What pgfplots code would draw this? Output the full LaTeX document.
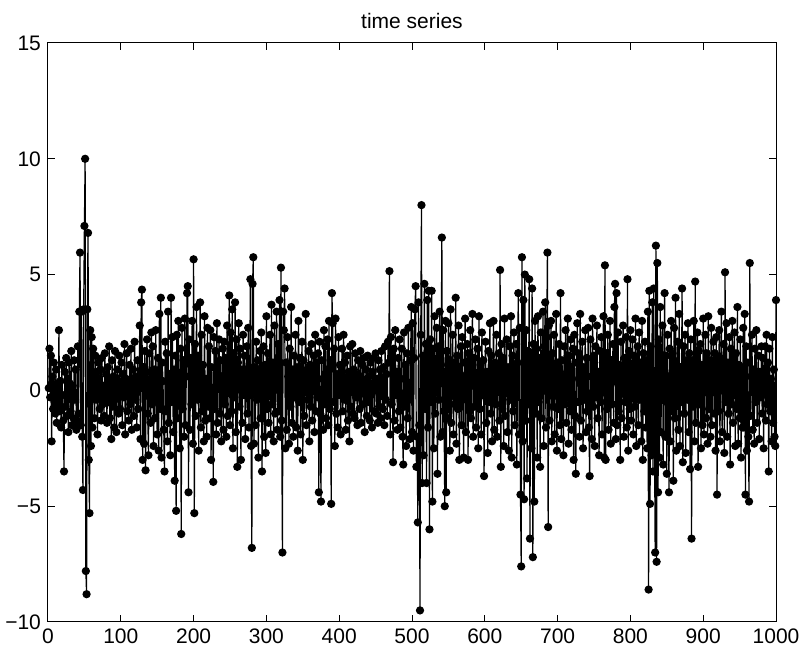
\documentclass[border=0pt]{standalone}
\usepackage{fontspec}
\setmainfont{Liberation Sans}
\usepackage{pgfplots}
\usepackage{pgfplotstable}
\pgfplotsset{compat=1.18}
\pgfplotstableread[row sep=\\]{
y\\
0.1\\ 1.8\\ -0.3\\ 1.5\\ -2.2\\ 0.6\\ -0.8\\ 1.2\\ -0.5\\ -1.0\\ 0.9\\ -1.4\\ 0.3\\ -0.6\\ 2.6\\ -0.9\\ 0.4\\ -1.6\\ 1.1\\ -0.2\\
-1.3\\ -3.5\\ 0.8\\ -0.7\\ 1.4\\ -1.1\\ 0.5\\ -1.8\\ 1.2\\ 0.3\\ -0.9\\ 1.7\\ -1.5\\ 0.2\\ -1.2\\ 1.3\\ -0.4\\ 0.9\\ -1.7\\ -1.3\\
1.9\\ -1.0\\ 3.4\\ 5.95\\ -1.5\\ 3.4\\ -2.0\\ -4.3\\ 3.5\\ 7.1\\ 10.0\\ -7.8\\ -8.8\\ 3.5\\ 6.8\\ -3.0\\ -5.3\\ 2.6\\ -2.4\\ 2.3\\
-1.6\\ 1.8\\ 0.6\\ -1.2\\ 1.5\\ -0.4\\ 0.8\\ -1.9\\ 1.2\\ 0.3\\ -0.8\\ 0.9\\ -1.3\\ 1.4\\ -0.6\\ 0.2\\ -1.1\\ 1.6\\ -0.3\\ 0.7\\
-1.4\\ 1.0\\ -0.5\\ 1.9\\ -1.2\\ 0.4\\ -2.1\\ 1.3\\ -0.7\\ 0.6\\ -1.6\\ 1.7\\ -0.2\\ -1.8\\ 0.9\\ 0.3\\ -1.0\\ 1.5\\ -0.8\\ 0.1\\
1.2\\ -1.5\\ 0.7\\ -0.3\\ 2.0\\ -1.9\\ 0.5\\ 1.6\\ -0.9\\ 0.2\\ -1.3\\ 1.1\\ -0.6\\ 1.8\\ -1.7\\ 0.4\\ 0.9\\ -1.1\\ 2.1\\ -0.4\\
0.6\\ -1.6\\ 1.3\\ -0.8\\ 0.3\\ 2.8\\ -2.1\\ 3.8\\ 4.35\\ -3.0\\ 1.0\\ -2.3\\ 1.7\\ -3.45\\ 0.8\\ 2.2\\ -1.0\\ -2.8\\ 1.6\\ 0.5\\
-1.4\\ 2.5\\ -0.6\\ 1.9\\ -2.4\\ 0.9\\ -1.2\\ 2.6\\ -0.3\\ -1.9\\ 1.4\\ -2.6\\ 3.3\\ -0.8\\ 4.0\\ -2.9\\ 1.2\\ 0.4\\ -1.7\\ -3.5\\
2.1\\ -0.9\\ 1.6\\ -2.2\\ 3.4\\ -1.4\\ 0.7\\ -2.8\\ 4.0\\ -0.5\\ 2.3\\ -1.8\\ 0.9\\ -3.9\\ 1.5\\ -5.2\\ 2.4\\ -1.2\\ 3.0\\ -0.3\\
-2.5\\ 1.8\\ -6.2\\ 2.7\\ -0.8\\ 1.3\\ -2.0\\ 3.1\\ -1.5\\ 0.6\\ 4.2\\ 4.5\\ -4.4\\ 2.2\\ -1.7\\ 1.4\\ -0.6\\ 3.0\\ -2.3\\ 5.66\\
-5.3\\ 2.0\\ -1.1\\ 3.6\\ -0.4\\ 1.5\\ -2.6\\ 0.8\\ 3.8\\ -1.6\\ 2.4\\ -0.9\\ 1.1\\ -2.2\\ 3.2\\ -1.3\\ 0.5\\ -2.0\\ 2.7\\ -0.7\\
1.9\\ -1.2\\ 2.6\\ -3.0\\ 1.0\\ -0.5\\ -3.95\\ 2.3\\ -0.8\\ 1.7\\ -1.9\\ 2.9\\ -1.4\\ 0.4\\ 2.2\\ -1.0\\ 1.3\\ -2.2\\ 0.6\\ 1.8\\
-1.7\\ 2.1\\ -0.6\\ 1.4\\ -2.0\\ 2.8\\ -1.1\\ 0.7\\ 4.1\\ -1.5\\ 2.5\\ -0.9\\ 3.5\\ -2.5\\ 1.6\\ -0.3\\ 3.8\\ -1.8\\ 2.2\\ -3.3\\
1.2\\ 2.9\\ -0.7\\ 1.8\\ -3.0\\ 0.9\\ -1.4\\ 2.4\\ -0.2\\ 1.5\\ -2.1\\ 0.6\\ 1.9\\ -1.0\\ 2.7\\ -1.6\\ 0.3\\ 4.8\\ -2.4\\ -6.8\\
4.6\\ 5.75\\ -2.3\\ 1.0\\ -1.5\\ 2.1\\ -0.4\\ 1.3\\ -2.9\\ 0.8\\ 1.7\\ -1.2\\ 2.5\\ -3.5\\ 0.5\\ 1.9\\ -2.0\\ 1.1\\ -2.7\\ 3.2\\
-0.8\\ 1.6\\ -1.4\\ 0.9\\ 2.4\\ -1.9\\ 3.7\\ -0.6\\ 1.2\\ -2.2\\ 2.8\\ -1.0\\ 0.4\\ 3.4\\ -1.7\\ 2.0\\ -0.9\\ 3.9\\ -2.0\\ 5.3\\
-1.3\\ -7.0\\ 3.4\\ 2.6\\ 4.4\\ -2.5\\ 1.2\\ -1.7\\ 2.3\\ 0.6\\ -2.3\\ 1.8\\ -0.7\\ 3.6\\ -1.4\\ 0.9\\ -2.0\\ 1.5\\ -0.3\\ 2.4\\
-1.6\\ 1.0\\ -2.6\\ 3.0\\ -0.5\\ 1.4\\ -1.9\\ 0.7\\ 2.1\\ -3.0\\ 1.3\\ -1.1\\ 0.5\\ 3.3\\ -1.5\\ 0.9\\ -0.4\\ 1.7\\ -2.2\\ 1.1\\
-0.7\\ 2.0\\ -1.3\\ 0.8\\ 1.5\\ -1.8\\ 2.4\\ -0.9\\ 1.2\\ -0.3\\ 1.6\\ -4.4\\ 2.1\\ -1.0\\ -4.8\\ 1.3\\ 0.5\\ -1.7\\ 2.6\\ -0.6\\
1.9\\ -1.2\\ 0.4\\ 2.2\\ -1.5\\ 3.0\\ -0.8\\ 1.3\\ -4.9\\ 4.2\\ 2.9\\ -0.5\\ 1.8\\ -2.4\\ 3.1\\ -1.0\\ 0.7\\ -1.6\\ 2.3\\ -0.2\\
1.1\\ -1.9\\ 0.6\\ 1.8\\ -0.9\\ 2.4\\ -0.4\\ 1.2\\ -1.7\\ 0.3\\ 1.5\\ -1.3\\ 0.8\\ -2.2\\ 1.9\\ -0.7\\ 0.4\\ 2.0\\ -1.0\\ 0.9\\
-1.2\\ 1.6\\ -0.3\\ 0.7\\ -1.5\\ 1.3\\ 0.2\\ -0.8\\ 1.7\\ -1.4\\ 0.5\\ 1.1\\ -0.6\\ 1.4\\ -1.8\\ 0.3\\ 0.9\\ -1.1\\ 1.5\\ -0.5\\
0.6\\ -1.3\\ 1.2\\ -0.2\\ -1.6\\ 0.8\\ 1.4\\ -0.9\\ 0.3\\ 1.6\\ -1.0\\ 0.5\\ -1.4\\ 1.3\\ -0.7\\ 0.9\\ -1.2\\ 1.7\\ 0.2\\ -0.8\\
1.0\\ -1.5\\ 1.9\\ -0.4\\ 0.7\\ -1.1\\ 2.1\\ 1.2\\ 5.15\\ -1.9\\ 2.3\\ -0.6\\ 1.5\\ -3.1\\ 1.8\\ -1.3\\ 2.6\\ -0.2\\ 0.8\\ -1.7\\
1.4\\ -0.9\\ 2.2\\ -1.6\\ 0.5\\ 1.8\\ -2.0\\ -3.2\\ 2.5\\ -0.7\\ 1.1\\ -2.4\\ 1.6\\ -1.2\\ 2.7\\ -0.3\\ -2.1\\ 1.3\\ 3.6\\ -1.8\\
2.9\\ -2.6\\ 1.4\\ 3.5\\ 4.5\\ -3.3\\ -2.0\\ -5.7\\ 3.8\\ -1.5\\ -9.5\\ 2.4\\ 8.0\\ -4.0\\ 1.5\\ -2.8\\ 4.6\\ -0.8\\ 2.0\\ -4.0\\
3.9\\ -1.6\\ 4.3\\ -6.0\\ 2.2\\ -0.5\\ 4.3\\ -4.8\\ 1.8\\ -2.5\\ 3.2\\ -1.0\\ 0.6\\ 2.7\\ -3.6\\ 1.9\\ -0.4\\ 3.4\\ -2.0\\ 1.1\\
6.6\\ -1.8\\ 2.6\\ -0.9\\ -5.0\\ 3.0\\ -4.4\\ 1.7\\ -1.2\\ 2.9\\ -0.3\\ -2.6\\ 3.5\\ -1.4\\ 0.8\\ 2.4\\ -1.9\\ 1.2\\ -0.6\\ 4.0\\
-2.3\\ 1.5\\ -0.8\\ 2.8\\ -3.0\\ 0.7\\ 1.9\\ -1.5\\ 2.3\\ -0.4\\ -2.9\\ 1.2\\ 3.1\\ -1.8\\ 0.5\\ 2.0\\ -3.0\\ 1.6\\ -0.9\\ 2.6\\
-1.2\\ 0.9\\ 3.3\\ -2.0\\ 1.4\\ -0.7\\ 2.2\\ -1.6\\ 0.3\\ 1.8\\ -2.5\\ 3.2\\ -0.8\\ 1.1\\ -1.9\\ 2.5\\ -0.2\\ 1.3\\ -3.7\\ 0.6\\
2.1\\ -1.4\\ 0.8\\ -2.7\\ 1.7\\ -0.5\\ 2.9\\ -1.0\\ 1.5\\ -2.2\\ 0.4\\ 3.0\\ -1.7\\ 1.2\\ -0.6\\ 2.4\\ -2.0\\ 0.9\\ 1.6\\ -1.3\\
5.2\\ -3.3\\ 2.0\\ -0.8\\ 1.4\\ -2.4\\ 3.1\\ -1.1\\ 0.6\\ 2.2\\ -1.8\\ 1.0\\ -2.6\\ 1.9\\ -0.4\\ 3.2\\ -2.9\\ 1.5\\ -0.9\\ 2.5\\
-1.5\\ 0.8\\ 2.0\\ -3.2\\ 1.2\\ 4.2\\ -1.9\\ 2.7\\ -4.5\\ -7.6\\ 5.75\\ -2.2\\ 3.9\\ -4.7\\ 5.0\\ -1.3\\ 2.6\\ -3.8\\ 1.7\\ -0.6\\
4.8\\ -6.4\\ 1.5\\ -2.5\\ 4.4\\ -7.2\\ 2.0\\ -4.8\\ 3.0\\ -1.0\\ 1.8\\ -2.9\\ 3.2\\ -0.5\\ 1.4\\ -3.3\\ 2.5\\ -1.2\\ 0.7\\ 3.4\\
-2.4\\ 1.9\\ 3.8\\ -1.6\\ 2.3\\ 5.95\\ -5.9\\ 2.8\\ -1.3\\ 0.9\\ 3.0\\ -2.2\\ 1.6\\ -0.7\\ 2.4\\ -1.9\\ 0.5\\ 3.3\\ -2.6\\ 1.2\\
-0.8\\ 2.0\\ -1.5\\ 4.2\\ -2.1\\ 1.3\\ 0.4\\ -2.8\\ 1.9\\ -0.6\\ 2.6\\ -1.4\\ 0.8\\ 3.1\\ -2.3\\ 1.5\\ -0.9\\ 2.2\\ -1.7\\ 0.5\\
1.8\\ -3.0\\ 2.4\\ -1.1\\ -3.6\\ 1.2\\ 2.9\\ -0.5\\ 1.6\\ -2.0\\ 3.3\\ -1.3\\ 0.7\\ 2.1\\ -2.5\\ 1.0\\ -0.4\\ 2.6\\ -1.8\\ 1.4\\
-0.9\\ 2.7\\ -1.6\\ -3.7\\ 2.2\\ 0.6\\ -2.1\\ 3.1\\ -0.7\\ 1.5\\ -2.4\\ 1.9\\ -0.3\\ 2.8\\ -1.2\\ 0.8\\ -2.8\\ 1.7\\ -0.5\\ 2.3\\
-1.9\\ 1.2\\ 3.2\\ -2.9\\ 5.4\\ -3.0\\ 1.6\\ -0.8\\ 2.4\\ -1.7\\ 0.9\\ 3.0\\ -2.3\\ 1.3\\ -0.6\\ 2.0\\ -1.4\\ 3.6\\ 4.6\\ -2.1\\
4.2\\ -1.5\\ 2.5\\ -0.9\\ 1.1\\ -3.0\\ 2.1\\ -1.2\\ 0.6\\ 2.8\\ -2.0\\ 1.4\\ -0.5\\ 2.3\\ -1.6\\ 4.8\\ -2.6\\ 1.7\\ -0.8\\ 2.6\\
-1.3\\ 0.9\\ 2.2\\ -1.9\\ 1.5\\ -0.7\\ 3.1\\ -2.4\\ 0.8\\ 1.9\\ -1.5\\ 2.5\\ -0.4\\ 1.2\\ -2.2\\ 3.0\\ -3.0\\ 1.6\\ -0.9\\ 2.1\\
-1.6\\ 1.3\\ -2.5\\ 3.4\\ -8.6\\ 4.3\\ -4.9\\ 1.9\\ -2.8\\ 3.8\\ -3.5\\ 4.4\\ -1.4\\ -7.0\\ 6.25\\ -7.4\\ 5.5\\ -4.4\\ 2.2\\ -2.9\\
3.6\\ -1.8\\ 1.1\\ 2.8\\ -3.2\\ 0.7\\ 4.2\\ -2.0\\ 1.5\\ -3.6\\ 2.4\\ -0.6\\ -4.4\\ 1.8\\ -2.2\\ 3.0\\ -0.9\\ 1.6\\ -3.9\\ 2.7\\
-1.2\\ 4.0\\ -2.6\\ 0.8\\ 2.1\\ -1.7\\ 3.3\\ -2.4\\ 1.0\\ -0.5\\ 4.4\\ -3.1\\ 1.9\\ -1.0\\ 2.4\\ -2.7\\ 1.3\\ -0.4\\ 2.9\\ -1.8\\
1.6\\ -3.4\\ 2.2\\ -6.4\\ 1.3\\ -0.7\\ 3.0\\ -2.2\\ 4.7\\ -1.4\\ 0.9\\ 2.5\\ -3.3\\ 1.7\\ -0.6\\ 2.0\\ -2.5\\ 1.1\\ -1.5\\ 3.1\\
-1.9\\ 0.7\\ 2.4\\ -1.2\\ 1.6\\ -2.3\\ 3.2\\ -0.8\\ 1.3\\ -2.0\\ 2.7\\ -1.5\\ 0.5\\ 2.1\\ -1.0\\ 1.6\\ -2.6\\ 2.3\\ -4.5\\ 1.4\\
-0.9\\ 2.6\\ -2.2\\ 1.1\\ 3.4\\ -1.8\\ 0.6\\ 2.0\\ -2.7\\ 5.1\\ -0.5\\ 2.9\\ -2.0\\ 1.2\\ -1.0\\ 2.3\\ -3.2\\ 1.8\\ -0.6\\ 3.0\\
-1.4\\ 0.8\\ 2.5\\ -2.4\\ 1.6\\ -0.8\\ 3.6\\ -2.3\\ 1.1\\ -1.2\\ 2.2\\ -2.9\\ 1.0\\ -1.6\\ 2.7\\ -1.6\\ 3.3\\ -4.5\\ 1.9\\ -2.6\\
1.2\\ -2.0\\ -4.8\\ 5.5\\ -1.1\\ 0.6\\ 2.4\\ -1.7\\ 0.9\\ -2.3\\ 1.8\\ -0.5\\ 2.6\\ -1.4\\ 0.4\\ 1.5\\ -2.1\\ 0.8\\ -0.3\\ 1.9\\
-1.0\\ 1.4\\ -2.5\\ 0.7\\ 1.9\\ -1.3\\ 2.4\\ -0.6\\ 1.2\\ -3.5\\ 1.8\\ -0.9\\ 0.5\\ -2.2\\ 2.3\\ -1.4\\ 0.9\\ -2.0\\ -2.4\\ 3.9\\
}\tsdata
\begin{document}
\begin{tikzpicture}
\useasboundingbox (-24pt,-17.5pt) rectangle (380pt,311pt);
\begin{axis}[
  scale only axis,
  width=364pt, height=289.5pt,
  xmin=0, xmax=1000, ymin=-10, ymax=15,
  xtick={0,100,...,1000}, ytick={-10,-5,0,5,10,15},
  yticklabels={−10,−5,0,5,10,15},
  tick align=inside,
  major tick length=3.5pt,
  axis line style={line width=0.5pt},
  tick style={line width=0.5pt, black},
  /pgf/number format/assume math mode=true,
  /pgf/number format/1000 sep={},
  ticklabel style={font=\fontsize{10.5}{12}\selectfont},
  title={time series},
  title style={font=\fontsize{10.5}{12}\selectfont, at={(0.5,1)}, anchor=base, yshift=1pt},
  clip=false,
]
\addplot[black, line width=0.6pt, mark=*, mark size=1.75pt, mark options={fill=black}]
  table[x expr=\coordindex+1, y=y] {\tsdata};
\end{axis}
\end{tikzpicture}
\end{document}
